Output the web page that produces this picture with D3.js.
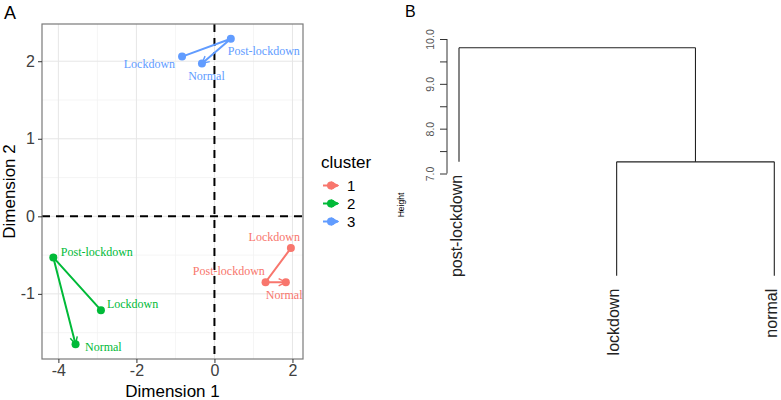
<!DOCTYPE html>
<html>
<head>
<meta charset="utf-8">
<script src="https://cdn.jsdelivr.net/npm/d3@7"></script>
<style>
  body { margin: 0; background: #fff; }
  svg { display: block; font-family: "Liberation Sans", Arial, sans-serif; }
</style>
</head>
<body>
<div id="chart"></div>
<script>
// ---- data: panel A (MDS coordinates per cluster) ----
const clusters = ["1", "2", "3"];
const conditions = ["Lockdown", "Post-lockdown", "Normal"];
const dim1 = {
  "1": [1.96, 1.31, 1.83],
  "2": [-2.91, -4.13, -3.56],
  "3": [-0.83, 0.42, -0.32]
};
const dim2 = {
  "1": [-0.41, -0.85, -0.85],
  "2": [-1.21, -0.53, -1.65],
  "3": [2.06, 2.29, 1.97]
};
const xTicks = [-4, -2, 0, 2];
const yTicks = [-1, 0, 1, 2];

// ---- data: panel B (dendrogram) ----
const leaves = ["post-lockdown", "lockdown", "normal"];
const leafEnds = [7.26, 4.72, 4.72];      // where each leaf line stops
const mergeHeights = [7.26, 9.805];       // lockdown+normal, then all
const heightTicks = [7, 7.5, 8, 8.5, 9, 9.5, 10];

// label placement (pixel nudges, like ggrepel would give)
const nudge = {
  "3": [[-7, 11, "end"], [-3, 16, "start"], [4.5, 16, "middle"]],
  "2": [[6, -2, "start"], [7.5, -1, "start"], [9.5, 6.5, "start"]],
  "1": [[9, -7.6, "end"], [-0.7, -7.3, "end"], [-20, 17, "start"]]
};

const W = 781, H = 400;
const svg = d3.select("#chart").append("svg")
  .attr("width", W).attr("height", H);

const color = d3.scaleOrdinal()
  .domain(clusters)
  .range(["#F8766D", "#00BA38", "#619CFF"]);

// ================= Panel A =================
const pA = {left: 42, right: 303, top: 24, bottom: 359};
const x = d3.scaleLinear().domain([-4.42, 2.27]).range([pA.left, pA.right]);
const y = d3.scaleLinear().domain([-1.84, 2.48]).range([pA.bottom, pA.top]);

svg.append("defs").append("clipPath").attr("id", "clipA")
  .append("rect")
    .attr("x", pA.left).attr("y", pA.top)
    .attr("width", pA.right - pA.left).attr("height", pA.bottom - pA.top);

const gA = svg.append("g");

// grid (minor then major)
const xMinor = [-3, -1, 1], yMinor = [-1.5, -0.5, 0.5, 1.5];
gA.selectAll(".xminor").data(xMinor).enter().append("line")
  .attr("x1", d => x(d)).attr("x2", d => x(d))
  .attr("y1", pA.top).attr("y2", pA.bottom)
  .attr("stroke", "#f2f2f2").attr("stroke-width", 0.8);
gA.selectAll(".yminor").data(yMinor).enter().append("line")
  .attr("y1", d => y(d)).attr("y2", d => y(d))
  .attr("x1", pA.left).attr("x2", pA.right)
  .attr("stroke", "#f2f2f2").attr("stroke-width", 0.8);
gA.selectAll(".xmajor").data(xTicks).enter().append("line")
  .attr("x1", d => x(d)).attr("x2", d => x(d))
  .attr("y1", pA.top).attr("y2", pA.bottom)
  .attr("stroke", "#e6e6e6").attr("stroke-width", 1);
gA.selectAll(".ymajor").data(yTicks).enter().append("line")
  .attr("y1", d => y(d)).attr("y2", d => y(d))
  .attr("x1", pA.left).attr("x2", pA.right)
  .attr("stroke", "#e6e6e6").attr("stroke-width", 1);

// dashed reference lines
gA.append("line")
  .attr("x1", x(0)).attr("x2", x(0)).attr("y1", pA.top).attr("y2", pA.bottom)
  .attr("stroke", "#000").attr("stroke-width", 2).attr("stroke-dasharray", "8,6");
gA.append("line")
  .attr("y1", y(0)).attr("y2", y(0)).attr("x1", pA.left).attr("x2", pA.right)
  .attr("stroke", "#000").attr("stroke-width", 2).attr("stroke-dasharray", "8,6");

// arrowheads per cluster
const defs = svg.select("defs");
clusters.forEach(c => {
  defs.append("marker")
    .attr("id", "arr" + c)
    .attr("viewBox", "0 0 10 10")
    .attr("refX", 9).attr("refY", 5)
    .attr("markerWidth", 4.5).attr("markerHeight", 4.5)
    .attr("markerUnits", "strokeWidth")
    .attr("orient", "auto")
    .append("path")
      .attr("d", "M1,1 L9,5 L1,9")
      .attr("fill", "none")
      .attr("stroke", color(c))
      .attr("stroke-width", 1.6);
});

// paths Lockdown -> Post-lockdown -> Normal
const line = d3.line().x(d => x(d[0])).y(d => y(d[1]));
clusters.forEach(c => {
  const pts = conditions.map((k, i) => [dim1[c][i], dim2[c][i]]);
  gA.append("path")
    .attr("d", line(pts))
    .attr("fill", "none")
    .attr("stroke", color(c))
    .attr("stroke-width", 2)
    .attr("marker-end", "url(#arr" + c + ")");
});

// points
clusters.forEach(c => {
  gA.selectAll(".pt" + c)
    .data(conditions)
    .enter()
    .append("circle")
      .attr("cx", (d, i) => x(dim1[c][i]))
      .attr("cy", (d, i) => y(dim2[c][i]))
      .attr("r", 4)
      .attr("fill", color(c));
});

// labels
const gLab = gA.append("g").attr("clip-path", "url(#clipA)");
clusters.forEach(c => {
  gLab.selectAll(".lab" + c)
    .data(conditions)
    .enter()
    .append("text")
      .attr("x", (d, i) => x(dim1[c][i]) + nudge[c][i][0])
      .attr("y", (d, i) => y(dim2[c][i]) + nudge[c][i][1])
      .attr("text-anchor", (d, i) => nudge[c][i][2])
      .style("font-family", "'Liberation Serif', 'Times New Roman', serif")
      .style("font-size", "12px")
      .attr("fill", color(c))
      .text(d => d);
});

// panel border
gA.append("rect")
  .attr("x", pA.left).attr("y", pA.top)
  .attr("width", pA.right - pA.left).attr("height", pA.bottom - pA.top)
  .attr("fill", "none").attr("stroke", "#7a7a7a").attr("stroke-width", 1.2);

// axes
const axX = gA.append("g").attr("transform", "translate(0," + pA.bottom + ")")
  .call(d3.axisBottom(x).tickValues(xTicks).tickSize(4).tickPadding(2).tickFormat(d3.format("d")));
const axY = gA.append("g").attr("transform", "translate(" + pA.left + ",0)")
  .call(d3.axisLeft(y).tickValues(yTicks).tickSize(4).tickPadding(3).tickFormat(d3.format("d")));
[axX, axY].forEach(a => {
  a.select(".domain").remove();
  a.selectAll(".tick line").attr("stroke", "#333");
  a.selectAll(".tick text").attr("fill", "#404040")
    .style("font-size", "16px").style("font-family", "'Liberation Sans', Arial, sans-serif");
});
axX.selectAll(".tick text").text(d => d < 0 ? "-" + Math.abs(d) : d);
axY.selectAll(".tick text").text(d => d < 0 ? "-" + Math.abs(d) : d);

gA.append("text")
  .attr("x", (pA.left + pA.right) / 2).attr("y", 397)
  .attr("text-anchor", "middle").style("font-size", "17px")
  .text("Dimension 1");
gA.append("text")
  .attr("transform", "translate(15," + ((pA.top + pA.bottom) / 2) + ") rotate(-90)")
  .attr("text-anchor", "middle").style("font-size", "17px")
  .text("Dimension 2");

// legend
const leg = svg.append("g");
leg.append("text").attr("x", 321).attr("y", 168)
  .style("font-size", "17px").text("cluster");
clusters.forEach((c, i) => {
  const ly = 185.5 + i * 18;
  leg.append("line").attr("x1", 323).attr("x2", 338).attr("y1", ly).attr("y2", ly)
    .attr("stroke", color(c)).attr("stroke-width", 2)
    .attr("marker-end", "url(#arr" + c + ")");
  leg.append("circle").attr("cx", 331).attr("cy", ly).attr("r", 4).attr("fill", color(c));
  leg.append("text").attr("x", 347).attr("y", ly + 5.5)
    .style("font-size", "15px").text(c);
});

svg.append("text").attr("x", 4).attr("y", 19).style("font-size", "18px").text("A");

// ================= Panel B =================
const gB = svg.append("g");
const hy = d3.scaleLinear().domain([7, 10]).range([173.5, 39]);
const lx = d3.scalePoint().domain(leaves).range([459, 774.3]);

const axH = gB.append("g").attr("transform", "translate(447,0)")
  .call(d3.axisLeft(hy).tickValues(heightTicks).tickSize(7).tickPadding(0)
    .tickFormat(d => Number.isInteger(d) ? d3.format(".1f")(d) : ""));
axH.select(".domain").attr("d", "M0," + hy(7) + "V" + hy(10)).attr("stroke", "#333");
axH.selectAll(".tick line").attr("stroke", "#333");
axH.selectAll(".tick text")
  .attr("x", 0).attr("dy", null)
  .attr("transform", "translate(-17,0) rotate(-90)")
  .attr("text-anchor", "middle")
  .attr("dominant-baseline", "central")
  .attr("fill", "#555")
  .style("font-size", "10.5px");

gB.append("text")
  .attr("transform", "translate(401,205) rotate(-90)")
  .attr("text-anchor", "middle").attr("dominant-baseline", "central")
  .style("font-size", "8.5px").text("Height");

// dendrogram segments
const xLN = (lx("lockdown") + lx("normal")) / 2;
const segs = [
  // leaves
  [lx("post-lockdown"), hy(leafEnds[0]), lx("post-lockdown"), hy(mergeHeights[1])],
  [lx("lockdown"), hy(leafEnds[1]), lx("lockdown"), hy(mergeHeights[0])],
  [lx("normal"), hy(leafEnds[2]), lx("normal"), hy(mergeHeights[0])],
  // lower merge
  [lx("lockdown"), hy(mergeHeights[0]), lx("normal"), hy(mergeHeights[0])],
  [xLN, hy(mergeHeights[0]), xLN, hy(mergeHeights[1])],
  // top merge
  [lx("post-lockdown"), hy(mergeHeights[1]), xLN, hy(mergeHeights[1])]
];
gB.selectAll(".seg").data(segs).enter().append("line")
  .attr("x1", d => d[0]).attr("y1", d => d[1])
  .attr("x2", d => d[2]).attr("y2", d => d[3])
  .attr("stroke", "#222").attr("stroke-width", 1.1);

gB.selectAll(".leaf").data(leaves).enter().append("text")
  .attr("transform", (d, i) => "translate(" + (lx(d) - 2.5) + "," + (hy(leafEnds[i]) + 13) + ") rotate(-90)")
  .attr("text-anchor", "end")
  .attr("dy", "0.32em")
  .style("font-size", "16px")
  .attr("fill", "#222")
  .text(d => d);

svg.append("text").attr("x", 405).attr("y", 17).style("font-size", "16px").text("B");
</script>
</body>
</html>
